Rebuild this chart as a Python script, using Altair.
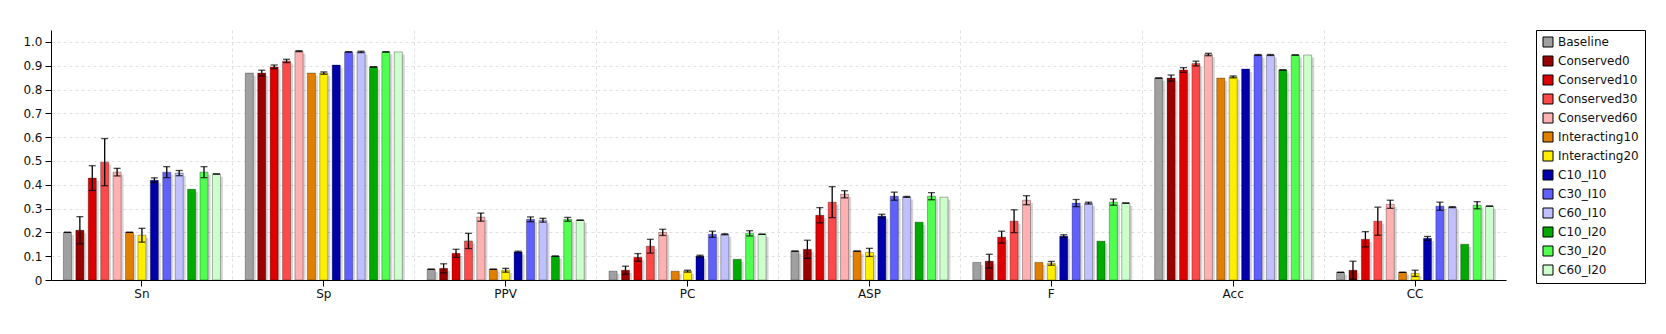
import altair as alt
import pandas as pd

metrics = ["Sn", "Sp", "PPV", "PC", "ASP", "F", "Acc", "CC"]
series = ["Baseline", "Conserved0", "Conserved10", "Conserved30", "Conserved60",
          "Interacting10", "Interacting20", "C10_I10", "C30_I10", "C60_I10",
          "C10_I20", "C30_I20", "C60_I20"]
colors = ["#a0a0a0", "#990000", "#dd0000", "#ff4848", "#ffb0b0",
          "#e07f00", "#ffee00", "#0000aa", "#6060ff", "#c0c0ff",
          "#00aa00", "#50ff50", "#ccffcc"]

N = None
values = {
    "Baseline":      [0.200, 0.869, 0.045, 0.037, 0.121, 0.074, 0.848, 0.032],
    "Conserved0":    [0.209, 0.869, 0.049, 0.041, 0.129, 0.079, 0.848, 0.041],
    "Conserved10":   [0.428, 0.895, 0.112, 0.095, 0.272, 0.180, 0.882, 0.171],
    "Conserved30":   [0.495, 0.920, 0.164, 0.142, 0.327, 0.247, 0.909, 0.247],
    "Conserved60":   [0.453, 0.961, 0.264, 0.200, 0.360, 0.335, 0.947, 0.318],
    "Interacting10": [0.200, 0.869, 0.045, 0.037, 0.121, 0.074, 0.848, 0.032],
    "Interacting20": [0.188, 0.869, 0.041, 0.037, 0.116, 0.070, 0.853, 0.028],
    "C10_I10":       [0.419, 0.903, 0.118, 0.100, 0.268, 0.184, 0.886, 0.175],
    "C30_I10":       [0.453, 0.958, 0.255, 0.192, 0.352, 0.323, 0.945, 0.310],
    "C60_I10":       [0.449, 0.958, 0.251, 0.192, 0.349, 0.323, 0.945, 0.306],
    "C10_I20":       [0.381, 0.895, 0.100, 0.087, 0.243, 0.163, 0.882, 0.150],
    "C30_I20":       [0.453, 0.958, 0.255, 0.196, 0.352, 0.327, 0.945, 0.314],
    "C60_I20":       [0.445, 0.958, 0.251, 0.192, 0.348, 0.323, 0.945, 0.310],
}
errors = {
    "Baseline":      [0.0, N, 0.0, N, 0.0, N, 0.0, 0.0],
    "Conserved0":    [0.057, 0.012, 0.019, 0.017, 0.038, 0.029, 0.013, 0.038],
    "Conserved10":   [0.052, 0.008, 0.017, 0.016, 0.032, 0.025, 0.010, 0.032],
    "Conserved30":   [0.099, 0.007, 0.032, 0.029, 0.065, 0.048, 0.010, 0.059],
    "Conserved60":   [0.016, 0.002, 0.017, 0.013, 0.015, 0.019, 0.005, 0.017],
    "Interacting10": [0.0, N, 0.0, N, 0.0, N, N, 0.0],
    "Interacting20": [0.029, 0.005, 0.008, 0.004, 0.017, 0.008, 0.004, 0.013],
    "C10_I10":       [0.010, N, 0.003, 0.004, 0.008, 0.006, N, 0.008],
    "C30_I10":       [0.023, 0.0, 0.010, 0.013, 0.017, 0.015, 0.002, 0.017],
    "C60_I10":       [0.011, 0.003, 0.008, 0.002, 0.002, 0.004, 0.002, 0.002],
    "C10_I20":       [N, 0.0, 0.0, N, N, N, 0.0, N],
    "C30_I20":       [0.023, 0.0, 0.008, 0.011, 0.015, 0.013, 0.0, 0.015],
    "C60_I20":       [0.0, N, 0.0, 0.0, N, 0.0, N, 0.0],
}

rows = []
for s in series:
    for m, v, e in zip(metrics, values[s], errors[s]):
        rows.append({"metric": m, "series": s, "value": v,
                     "err": float("nan") if e is None else e})
df = pd.DataFrame(rows)
err_df = df[df["err"].notna()].copy()
err_df["lo"] = err_df["value"] - err_df["err"]
err_df["hi"] = err_df["value"] + err_df["err"]

FONT = "DejaVu Sans"
yticks = [round(i * 0.1, 1) for i in range(11)]

x_main = alt.X("metric:N", sort=metrics,
               scale=alt.Scale(paddingInner=0, paddingOuter=0),
               axis=alt.Axis(title=None, labelAngle=0, orient="bottom",
                             tickSize=6, tickColor="black", domainColor="black",
                             labelPadding=2, labelFontSize=12, labelColor="#111",
                             labelFont=FONT, grid=False))
x_grid = alt.X("metric:N", sort=metrics,
               scale=alt.Scale(paddingInner=0, paddingOuter=0),
               axis=alt.Axis(title=None, orient="bottom", labels=False, ticks=False,
                             domain=False, grid=True, bandPosition=0, tickExtra=False,
                             gridColor="#e0e0e0", gridDash=[3, 3], gridWidth=1))

def xoff(align=0.5):
    return alt.XOffset("series:N", sort=series,
                       scale=alt.Scale(paddingInner=0.35, paddingOuter=1, align=align))

y_scale = alt.Scale(domain=[0, 1.05], nice=False, zero=True)
y_axis = alt.Axis(values=yticks, title=None,
                  labelExpr="datum.value == 0 ? '0' : format(datum.value, '.1f')",
                  tickSize=6, tickColor="black", domainColor="black",
                  labelPadding=3, labelFontSize=12, labelColor="#111",
                  labelFont=FONT, grid=True, gridColor="#e0e0e0",
                  gridDash=[3, 3])

def yq(field):
    return alt.Y(field, stack=None, scale=y_scale, axis=y_axis)

base = alt.Chart(df)

shadow = base.transform_calculate(
    stop="max(datum.value - 0.011, 0)"
).mark_bar(color="black", opacity=0.16).encode(
    x=x_grid,
    xOffset=xoff(0.6),
    y=yq("stop:Q"),
    y2=alt.datum(0),
)

bars = base.mark_bar(stroke="black", strokeOpacity=0.3, strokeWidth=1).encode(
    x=x_main,
    xOffset=xoff(),
    y=yq("value:Q"),
    color=alt.Color("series:N", sort=series,
                    scale=alt.Scale(domain=series, range=colors),
                    legend=alt.Legend(title=None, orient="right", offset=30,
                                      padding=6, strokeColor="black",
                                      fillColor="white", labelFontSize=12,
                                      labelFont=FONT, labelColor="#111",
                                      symbolType="square", symbolSize=100,
                                      symbolStrokeColor="black",
                                      symbolStrokeWidth=1, symbolOpacity=1,
                                      rowPadding=5, labelOffset=4)),
)

err_rule = alt.Chart(err_df).mark_rule(color="black", strokeWidth=1.3).encode(
    x=alt.X("metric:N", sort=metrics, axis=None),
    xOffset=xoff(),
    y=yq("lo:Q"),
    y2="hi:Q",
)

err_caps = alt.Chart(err_df).transform_fold(
    ["lo", "hi"], as_=["k", "v"]
).mark_tick(color="black", thickness=1.3, size=7).encode(
    x=alt.X("metric:N", sort=metrics, axis=None),
    xOffset=xoff(),
    y=yq("v:Q"),
)

chart = alt.layer(shadow, bars, err_rule, err_caps).resolve_scale(
    xOffset="independent"
).resolve_axis(x="independent").properties(
    width=1455, height=250,
    autosize=alt.AutoSizeParams(type="none"),
    padding={"left": 51, "top": 30, "right": 160, "bottom": 54},
    background="white",
).configure_view(stroke=None)

chart.save("out.html", embed_options={"renderer": "svg", "actions": False})
